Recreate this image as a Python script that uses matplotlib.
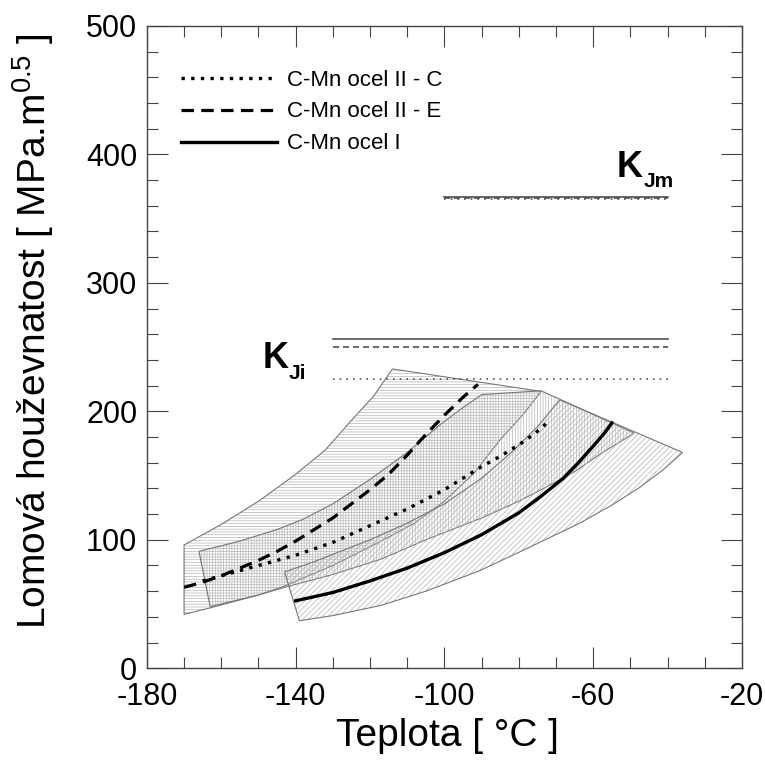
import matplotlib
matplotlib.use("Agg")
import matplotlib.pyplot as plt

plt.rcParams['font.family'] = ['Liberation Sans', 'DejaVu Sans']
plt.rcParams['mathtext.fontset'] = 'custom'
plt.rcParams['mathtext.rm'] = 'Liberation Sans'
plt.rcParams['mathtext.bf'] = 'Liberation Sans:bold'
plt.rcParams['mathtext.it'] = 'Liberation Sans:italic'
plt.rcParams['hatch.linewidth'] = 0.5
plt.rcParams['axes.unicode_minus'] = False

# ---------------- data ----------------
# scatter band II-E (horizontal hatch)
bandE_up_x = [-170, -160, -150, -140, -132, -125, -119, -114]
bandE_up_y = [96, 112, 130, 151, 170, 193, 212, 233]
bandE_lo_x = [-170, -163, -150, -143, -130, -117, -108, -100, -92, -85, -79, -74]
bandE_lo_y = [42, 47, 57, 64, 80, 99, 113, 130, 152, 178, 197, 215.5]

# scatter band II-C (vertical hatch)
bandC_up_x = [-166, -155, -145, -138, -130, -120, -110, -101, -95, -90, -74]
bandC_up_y = [91, 99, 108, 116, 128, 147, 168, 190, 203, 213, 216]
bandC_lo_x = [-163, -150, -143, -130, -117, -105, -90, -80, -74, -65, -58, -49]
bandC_lo_y = [48, 57, 63, 73, 85, 100, 117, 130, 139, 153, 167, 183]

# scatter band I (diagonal hatch)
bandI_up_x = [-143, -135, -128, -120, -110, -100, -90, -82, -75, -69]
bandI_up_y = [75, 83, 91, 100, 113, 128, 148, 168, 188, 209]
bandI_lo_x = [-139, -130, -117, -105, -90.5, -78, -63.6, -55, -47.4, -41, -36]
bandI_lo_y = [37, 41, 49, 60, 76, 93, 113, 127, 141, 155, 168]

# median curves
curveC_x = [-165, -160, -150, -140, -130, -120, -110, -100, -90, -85, -80, -76, -72]
curveC_y = [68, 72, 80, 88, 98, 111, 124, 139, 157, 165, 174, 182, 192]
curveE_x = [-170, -165, -160, -155, -150, -145, -140, -135, -130, -125, -120, -115,
            -110, -105, -100, -95, -91]
curveE_y = [63, 67, 72, 78, 84, 91, 99, 108, 117, 128, 139, 151, 166, 182, 197, 211, 221]
curveI_x = [-140, -130, -120, -110, -100, -90, -80, -74, -68, -64, -60, -57, -55]
curveI_y = [52.5, 59, 68, 78, 90, 104, 121, 134, 148, 160, 173, 183, 191]

# K_Ji and K_Jm levels
kji_x = [-130, -40]
kji_I, kji_E, kji_C = 256, 250, 225
kjm_x = [-100, -40]
kjm_I, kjm_E, kjm_C = 367, 366, 365.5

labels = ['C-Mn ocel II - C', 'C-Mn ocel II - E', 'C-Mn ocel I']
xticks = [-180, -140, -100, -60, -20]
yticks = [0, 100, 200, 300, 400, 500]

# ---------------- figure ----------------
fig = plt.figure(figsize=(7.65, 7.62), dpi=100)
ax = fig.add_axes([0.192, 0.123, 0.778, 0.843])

hatch_col = '#b4b4b4'
edge_col = '#777777'

def band(ux, uy, lx, ly, hatch):
    px = list(ux) + list(lx)[::-1]
    py = list(uy) + list(ly)[::-1]
    ax.fill(px, py, facecolor='none', edgecolor=hatch_col, hatch=hatch, linewidth=0)
    ax.fill(px, py, facecolor='none', edgecolor=edge_col, linewidth=0.8)

band(bandE_up_x, bandE_up_y, bandE_lo_x, bandE_lo_y, '------')
band(bandC_up_x, bandC_up_y, bandC_lo_x, bandC_lo_y, '||||||')
band(bandI_up_x, bandI_up_y, bandI_lo_x, bandI_lo_y, '//////')

dot_ls = (0, (1, 1.9))
dash_ls = (0, (3.9, 2.3))

lC, = ax.plot(curveC_x, curveC_y, color='black', lw=2.4, ls=dot_ls, label=labels[0])
lE, = ax.plot(curveE_x, curveE_y, color='black', lw=2.3, ls=dash_ls, label=labels[1])
lI, = ax.plot(curveI_x, curveI_y, color='black', lw=2.4, ls='-', label=labels[2])

# K levels
kc = '#505050'
ax.plot(kji_x, [kji_I] * 2, color=kc, lw=1.2, ls='-')
ax.plot(kji_x, [kji_E] * 2, color=kc, lw=1.2, ls=(0, (3.6, 2.4)))
ax.plot(kji_x, [kji_C] * 2, color=kc, lw=1.2, ls=(0, (1, 3)))
ax.plot(kjm_x, [kjm_I] * 2, color=kc, lw=1.2, ls='-')
ax.plot(kjm_x, [kjm_E] * 2, color=kc, lw=1.2, ls=(0, (3.6, 2.4)))
ax.plot(kjm_x, [kjm_C] * 2, color=kc, lw=1.2, ls=(0, (1, 3)))

ax.text(-53.7, 382.6, 'K', fontsize=26, fontweight='bold', ha='left', va='baseline')
ax.text(-46.5, 374.8, 'Jm', fontsize=15, fontweight='bold', ha='left', va='baseline')
ax.text(-148.8, 233.6, 'K', fontsize=26, fontweight='bold', ha='left', va='baseline')
ax.text(-141.9, 225.0, 'Ji', fontsize=15, fontweight='bold', ha='left', va='baseline')

ax.set_xlim(-180, -20)
ax.set_ylim(0, 500)
ax.set_xticks(xticks)
ax.set_yticks(yticks)
ax.set_xticks(range(-180, -19, 10), minor=True)
ax.set_yticks(range(0, 501, 20), minor=True)
ax.tick_params(which='both', direction='in', top=True, right=True, width=0.8, color='#444444')
ax.tick_params(which='major', length=15, labelsize=22)
ax.tick_params(axis='x', which='major', pad=10)
ax.tick_params(axis='y', which='major', pad=7)
ax.tick_params(which='minor', length=8)
for s in ax.spines.values():
    s.set_color('#444444')
    s.set_linewidth(1.0)

ax.set_xlabel('Teplota [ °C ]', fontsize=28)
ax.set_ylabel(r'Lomová houževnatost [ MPa.m$^{\mathrm{0.5}}$ ]', fontsize=28)
ax.xaxis.set_label_coords(0.505, -0.078)
ax.yaxis.set_label_coords(-0.153, 0.525)

ax.legend(handles=[lC, lE, lI], loc='upper left', bbox_to_anchor=(0.058, 0.932),
          frameon=False, fontsize=16, handlelength=4.3, handletextpad=0.45,
          labelspacing=0.49, borderpad=0, borderaxespad=0)

fig.savefig('out.png', dpi=100)
